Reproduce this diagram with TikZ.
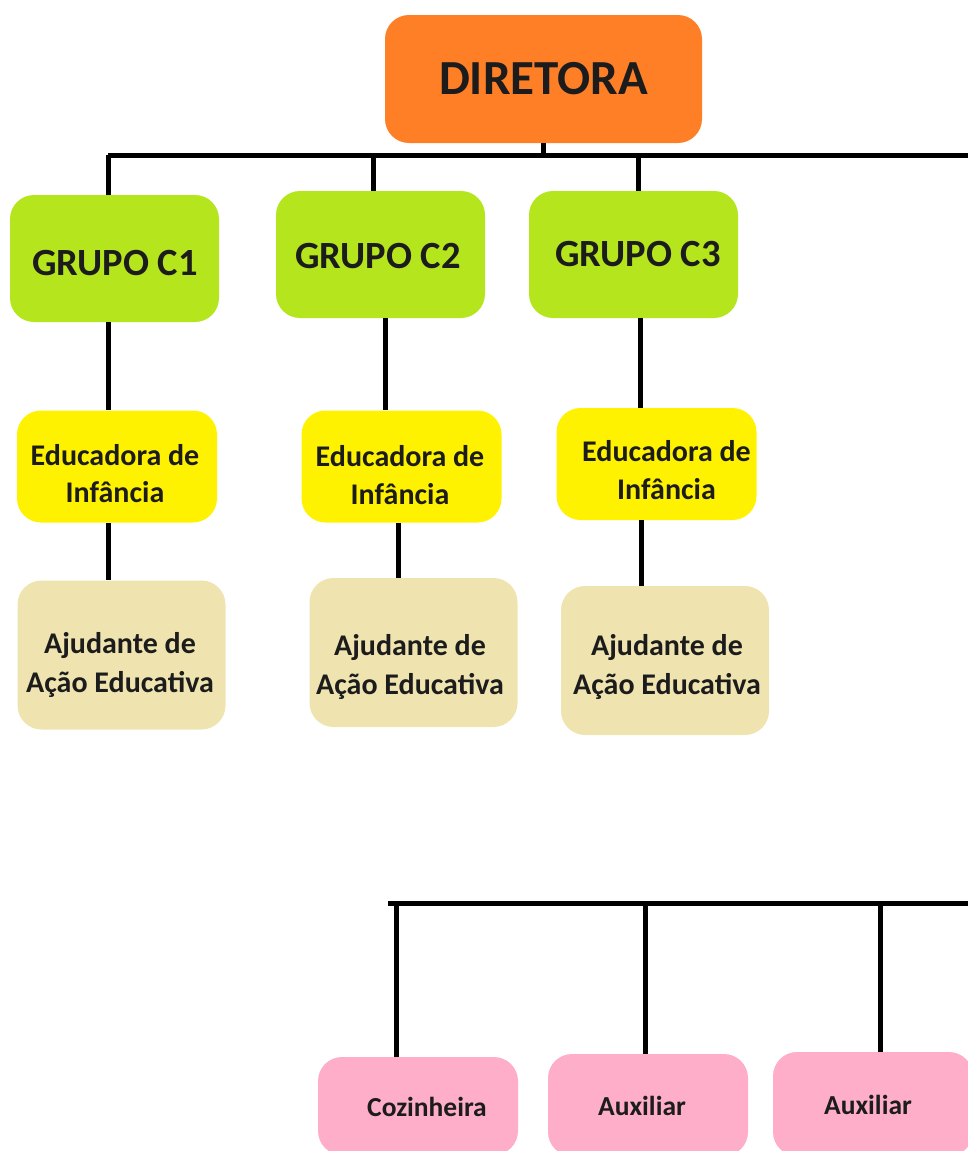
\documentclass[tikz,border=0pt]{standalone}
\usepackage{fontspec}
\setmainfont{Carlito}
\definecolor{laranja}{HTML}{FF7F27}
\definecolor{lima}{HTML}{B5E61D}
\definecolor{amarelo}{HTML}{FFF200}
\definecolor{bege}{HTML}{EFE4B0}
\definecolor{rosa}{HTML}{FFAEC9}
\definecolor{letra}{HTML}{1C1C1C}
\begin{document}
\begin{tikzpicture}[x=1pt,y=-1pt,
  caixa/.style={rounded corners=24pt,inner sep=0pt},
  texto/.style={align=center,text=letra,inner sep=0pt},
  ligacao/.style={line width=5pt}]
\useasboundingbox (0,0) rectangle (968,1151);
\clip (0,0) rectangle (968,1151);
\node[caixa,fill=laranja,minimum width=317pt,minimum height=128pt,
  label={[texto,font=\fontsize{49}{52}\selectfont\bfseries]center:DIRETORA}] (dir) at (543.5,79) {};
\foreach \g/\x/\y/\n/\dx/\dy in {g1/114.5/258.5/C1/0.5/4.5,g2/380.5/254.5/C2/-2.5/1.5,g3/633.5/254.5/C3/4.5/0}
  \node[caixa,fill=lima,minimum width=209pt,minimum height=127pt,
    label={[texto,font=\fontsize{38.5}{40}\selectfont\bfseries,xshift=\dx pt,yshift=-\dy pt]center:GRUPO \n}] (\g) at (\x,\y) {};
\foreach \e/\x/\y/\dx/\dy in {e1/117/466.5/-2/7,e2/401.5/466.5/-1.5/8.5,e3/656.5/464/10/6}
  \node[caixa,fill=amarelo,minimum width=200pt,minimum height=112pt,
    label={[texto,font=\fontsize{30}{37.5}\selectfont\bfseries,xshift=\dx pt,yshift=-\dy pt]center:Educadora de\\Infância}] (\e) at (\x,\y) {};
\foreach \a/\x/\y/\dx/\dy in {a1/121.5/655/-1.5/10,a2/413.5/652.5/-3.5/14,a3/665/660.5/2/6.5}
  \node[caixa,fill=bege,minimum width=208pt,minimum height=149pt,
    label={[texto,font=\fontsize{30}{39}\selectfont\bfseries,xshift=\dx pt,yshift=-\dy pt]center:Ajudante de\\Ação Educativa}] (\a) at (\x,\y) {};
\foreach \p/\x/\y/\h/\t/\dx in {coz/418/1106/98/Cozinheira/9,aux1/648/1105/102/Auxiliar/-6,aux2/873/1104/104/Auxiliar/-5}
  \node[caixa,fill=rosa,minimum width=200pt,minimum height=\h pt,
    label={[texto,font=\fontsize{27.5}{30}\selectfont\bfseries,xshift=\dx pt,yshift=-1pt]center:\t}] (\p) at (\x,\y) {};
\coordinate (topo) at (108,155);
\coordinate (base) at (388,903);
\draw[ligacao] (topo) -- (975,155);
\draw[ligacao] (dir.south) -- (dir.south |- topo);
\foreach \g/\x in {g1/108,g2/373,g3/638}
  \draw[ligacao] (\x,0 |- topo) -- (\x,0 |- \g.north);
\foreach \a/\b/\x in {g1/e1/108,g2/e2/385,g3/e3/640,e1/a1/108,e2/a2/398,e3/a3/641}
  \draw[ligacao] (\x,0 |- \a.south) -- (\x,0 |- \b.north);
\draw[ligacao] (base) -- (975,903);
\foreach \p/\x in {coz/396,aux1/645,aux2/880}
  \draw[ligacao] (\x,0 |- base) -- (\x,0 |- \p.north);
\end{tikzpicture}
\end{document}
